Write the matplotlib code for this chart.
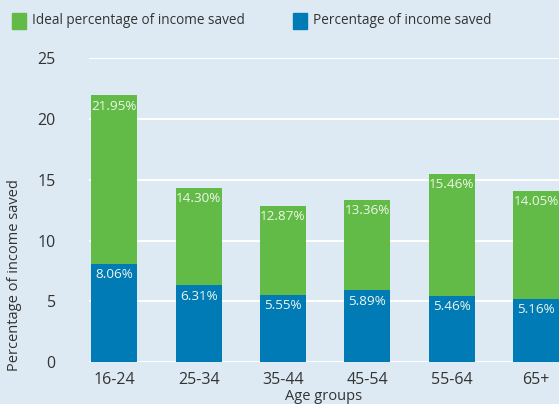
import matplotlib
matplotlib.use('Agg')
import matplotlib.pyplot as plt
from matplotlib.patches import Rectangle

# data
age_groups = ['16-24', '25-34', '35-44', '45-54', '55-64', '65+']
ideal_saved = [21.95, 14.30, 12.87, 13.36, 15.46, 14.05]
actual_saved = [8.06, 6.31, 5.55, 5.89, 5.46, 5.16]

bg = '#ddeaf3'
green = '#62bb46'
blue = '#007bb6'
txt = '#333333'

plt.rcParams['font.family'] = ['Open Sans', 'DejaVu Sans']
plt.rcParams['font.size'] = 10

fig = plt.figure(figsize=(5.59, 4.04), dpi=100)
fig.patch.set_facecolor(bg)
ax = fig.add_axes([0.1592, 0.104, 0.8408, 0.7517])
ax.set_facecolor(bg)

x = range(len(age_groups))
width = 0.545

# the ideal bars sit behind, the actual ones in front (not stacked)
g_bars = ax.bar(x, ideal_saved, width, color=green, zorder=2)
b_bars = ax.bar(x, actual_saved, width, color=blue, zorder=3)

for bars, vals in ((g_bars, ideal_saved), (b_bars, actual_saved)):
    for bar, v in zip(bars, vals):
        ax.annotate('%.2f%%' % v, (bar.get_x() + bar.get_width() / 2, v),
                    xytext=(0, -3), textcoords='offset points',
                    ha='center', va='top', fontsize=9.7,
                    color='#eef6ea', zorder=4)

ax.set_xlim(-0.3, 5.27)
ax.set_ylim(0, 25)
ax.set_yticks([0, 5, 10, 15, 20, 25])
ax.set_xticks(list(x))
ax.set_xticklabels(age_groups)

ax.grid(axis='y', color='white', linewidth=1.5, zorder=0)
ax.set_axisbelow(True)
for s in ax.spines.values():
    s.set_visible(False)
ax.tick_params(axis='both', length=0, colors=txt, labelsize=11.5)
ax.tick_params(axis='y', pad=24)
ax.tick_params(axis='x', pad=7)

ax.set_ylabel('Percentage of income saved', color=txt, fontsize=10.5)
ax.yaxis.set_label_coords(-0.142, 0.285)
ax.set_xlabel('Age groups', color=txt, fontsize=10.5)
ax.xaxis.set_label_coords(0.5, -0.088)

# legend along the top
W, H = 559.0, 404.0
for x0, col, label in ((12, green, 'Ideal percentage of income saved'),
                       (293, blue, 'Percentage of income saved')):
    fig.add_artist(Rectangle((x0 / W, 1 - 29 / H), 14 / W, 16 / H,
                             transform=fig.transFigure, color=col))
    fig.text((x0 + 20) / W, 1 - 21 / H, label, color=txt,
             fontsize=9.8, va='center', ha='left')

fig.savefig('out.png', dpi=100, facecolor=bg)
